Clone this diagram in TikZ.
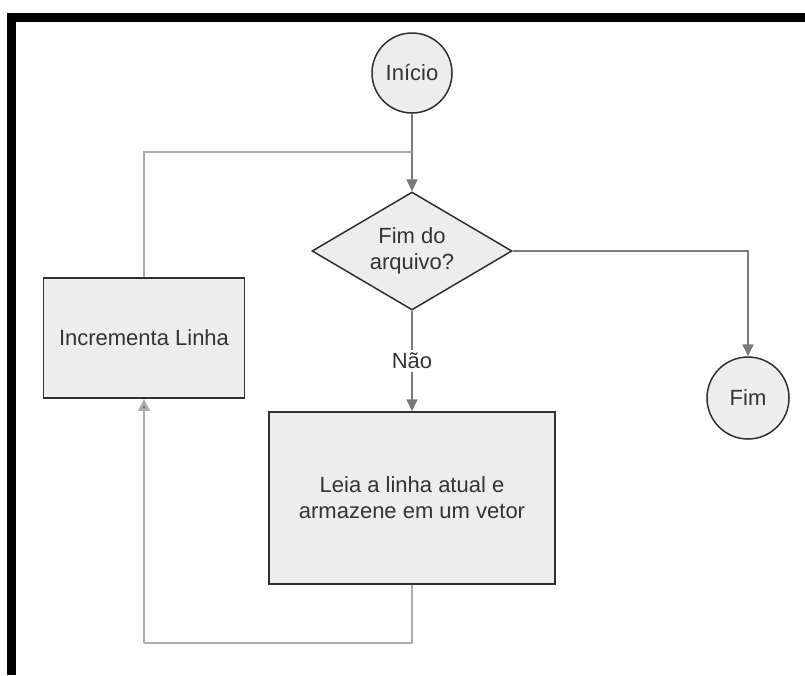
\documentclass[tikz,border=0pt]{standalone}
\usepackage{fontspec}
\setmainfont{Liberation Sans}
\usetikzlibrary{shapes.geometric,arrows.meta}
\definecolor{nodefill}{HTML}{EDEDED}
\definecolor{nodeedge}{HTML}{303030}
\definecolor{flowline}{HTML}{7A7A7A}
\definecolor{backline}{HTML}{ABABAB}
\definecolor{txt}{HTML}{333333}
\begin{document}
\begin{tikzpicture}[x=1pt,y=-1pt,
  every node/.style={font=\fontsize{22}{26}\selectfont, text=txt, align=center},
  term/.style={circle, draw=nodeedge, fill=nodefill, line width=1.5pt, minimum size=#1, inner sep=0pt},
  procbox/.style={rectangle, draw=nodeedge, fill=nodefill, line width=1.5pt, inner sep=0pt},
  decision/.style={diamond, shape aspect=1.7, draw=nodeedge, fill=nodefill, line width=1.5pt, inner sep=0pt, minimum width=200pt, minimum height=118pt},
  flow/.style={draw=flowline, line width=2pt, -{Triangle[length=12pt,width=11pt]}},
  flowplain/.style={draw=flowline, line width=2pt},
  back/.style={draw=backline, line width=2.5pt},
  backarrow/.style={draw=backline, line width=2.5pt, -{Triangle[length=12pt,width=11pt,fill=flowline]}}]
  \useasboundingbox (0,0) rectangle (805,675);
  % frame bars
  \fill[black] (7,13) rectangle (805,22);
  \fill[black] (7,13) rectangle (16,675);

  % nodes
  \node[term=80pt] (inicio) at (412,73) {Início};
  \node[decision] (dec) at (412,251) {Fim do\\arquivo?};
  \node[procbox, minimum width=286pt, minimum height=172pt] (leia) at (412,498) {Leia a linha atual e\\armazene em um vetor};
  \node[procbox, minimum width=201pt, minimum height=120pt] (incr) at (144,338) {Incrementa Linha};
  \node[term=82pt] (fim) at (748,398) {Fim};
  \node[inner sep=3pt] (nao) at (412,361) {Não};

  \coordinate (join) at (412,152);
  \coordinate (loopbot) at (144,643);

  % connectors
  \draw[flow] (inicio) -- (dec.north);
  \draw[flowplain] (dec.south) -- (nao);
  \draw[flow] (nao) -- (leia.north);
  \draw[flow] (dec.east) -| (fim.north);
  \draw[back] (leia.south) |- (loopbot);
  \draw[backarrow] (loopbot) -- (incr.south);
  \draw[back] (incr.north) |- (join);
\end{tikzpicture}
\end{document}
